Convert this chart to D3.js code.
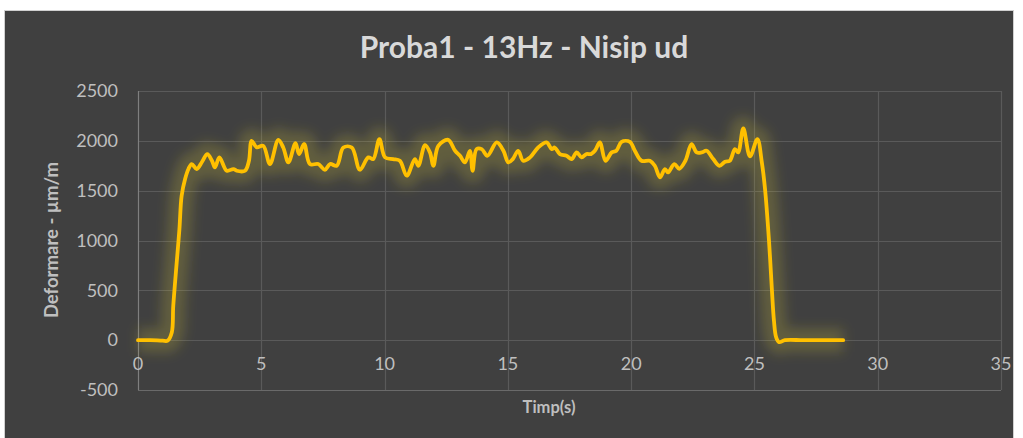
<!DOCTYPE html>
<html>
<head>
<meta charset="utf-8">
<script src="https://cdn.jsdelivr.net/npm/d3@7"></script>
<style>
  body { margin: 0; background: #ffffff; }
  svg { display: block; }
</style>
</head>
<body>
<div id="chart"></div>
<script>
// time in seconds
const timeS = [0, 0.5, 1.0, 1.2, 1.37, 1.43, 1.57, 1.68, 1.77, 1.91, 2.05, 2.18, 2.38, 2.6, 2.81, 3.0, 3.12, 3.3, 3.6, 3.87, 4.0, 4.34, 4.5, 4.61, 4.81, 5.08,
  5.35, 5.69, 5.89, 6.10, 6.39, 6.53, 6.74, 6.97, 7.31, 7.58, 7.79, 8.06, 8.33, 8.67, 9.0, 9.34, 9.54, 9.79, 10.02, 10.35, 10.62, 10.90,
  11.23, 11.37, 11.64, 11.84, 11.98, 12.18, 12.58, 12.86, 13.06, 13.26, 13.46, 13.57, 13.73, 13.94, 14.17, 14.55, 14.82, 15.02, 15.2,
  15.42, 15.62, 15.90, 16.23, 16.57, 16.78, 16.9, 17.11, 17.38, 17.59, 17.79, 17.99, 18.19, 18.37, 18.53, 18.73, 18.96, 19.21, 19.4,
  19.61, 19.95, 20.15, 20.42, 20.76, 20.96, 21.17, 21.37, 21.5, 21.75, 21.95, 22.2, 22.45, 22.66, 22.86, 23.06, 23.33, 23.58, 23.81,
  24.0, 24.21, 24.34, 24.55, 24.82, 25.12, 25.30, 25.43, 25.59, 25.71, 25.79, 25.88, 26.0, 26.24, 27.0, 28.6];
// strain in µm/m
const strain = [0, 0, -5, -5, 77, 344, 780, 1114, 1449, 1617, 1720, 1767, 1717, 1790, 1867, 1800, 1733, 1833, 1700, 1717, 1700, 1700, 1800, 2000, 1935, 1950,
  1767, 2010, 1933, 1784, 1978, 1867, 1968, 1767, 1767, 1710, 1767, 1750, 1933, 1933, 1710, 1834, 1817, 2017, 1834, 1817, 1800, 1650,
  1817, 1750, 1957, 1884, 1750, 1950, 2010, 1900, 1850, 1784, 1900, 1700, 1917, 1917, 1850, 1984, 1900, 1784, 1817,
  1900, 1800, 1834, 1933, 1984, 1917, 1933, 1867, 1850, 1817, 1884, 1834, 1867, 1867, 1900, 1984, 1800, 1884, 1900,
  1990, 1990, 1900, 1800, 1800, 1750, 1634, 1717, 1683, 1767, 1720, 1800, 1967, 1884, 1884, 1900, 1817, 1750, 1790,
  1800, 1917, 1884, 2124, 1844, 2017, 1784, 1516, 1000, 500, 200, 30, -20, 0, 0, 0];

const xTicks = [0, 5, 10, 15, 20, 25, 30, 35];
const yTicks = [-500, 0, 500, 1000, 1500, 2000, 2500];

const chartTitle = 'Proba1 - 13Hz - Nisip ud';
const xTitle = 'Timp(s)';
const yTitle = 'Deformare - µm/m';

const W = 1023, H = 438;
const font = 'Lato, "Open Sans", sans-serif';

const svg = d3.select('#chart').append('svg')
    .attr('width', W)
    .attr('height', H);

// glow filter
const defs = svg.append('defs');
defs.append('filter')
    .attr('id', 'glow')
    .attr('x', '-10%').attr('y', '-20%')
    .attr('width', '120%').attr('height', '140%')
    .append('feGaussianBlur')
    .attr('stdDeviation', 6);

// background panel
svg.append('rect')
    .attr('x', 4.5).attr('y', 10.5)
    .attr('width', 1009).attr('height', H)
    .attr('fill', '#404040')
    .attr('stroke', '#d0d0d0');

const x = d3.scaleLinear().domain([0, 35]).range([138, 1001]);
const y = d3.scaleLinear().domain([-500, 2500]).range([390, 91]);

// gridlines
const g = svg.append('g');
g.selectAll('line.hg')
    .data(yTicks)
    .enter()
    .append('line')
    .attr('x1', x(0)).attr('x2', x(35))
    .attr('y1', d => Math.round(y(d)) + 0.5)
    .attr('y2', d => Math.round(y(d)) + 0.5)
    .attr('stroke', d => d === -500 ? '#6a6a6a' : '#5a5a5a')
    .attr('stroke-width', 1.2);

g.selectAll('line.vg')
    .data(xTicks)
    .enter()
    .append('line')
    .attr('y1', y(2500)).attr('y2', y(-500))
    .attr('x1', d => Math.round(x(d)) + 0.5)
    .attr('x2', d => Math.round(x(d)) + 0.5)
    .attr('stroke', d => d === 0 ? '#7f7f7f' : '#5a5a5a')
    .attr('stroke-width', 1.2);

// tick labels
g.selectAll('text.yt')
    .data(yTicks)
    .enter()
    .append('text')
    .attr('x', 118)
    .attr('y', d => y(d))
    .attr('dy', '0.35em')
    .attr('text-anchor', 'end')
    .attr('fill', '#bfbfbf')
    .attr('font-family', font)
    .attr('font-size', 18)
    .text(d => d);

g.selectAll('text.xt')
    .data(xTicks)
    .enter()
    .append('text')
    .attr('x', d => x(d))
    .attr('y', y(0) + 24)
    .attr('dy', '0.35em')
    .attr('text-anchor', 'middle')
    .attr('fill', '#bfbfbf')
    .attr('font-family', font)
    .attr('font-size', 18)
    .text(d => d);

// titles
svg.append('text')
    .attr('x', 524).attr('y', 47)
    .attr('dy', '0.35em')
    .attr('text-anchor', 'middle')
    .attr('fill', '#d9d9d9')
    .attr('font-family', font)
    .attr('font-weight', 'bold')
    .attr('font-size', 30)
    .text(chartTitle);

svg.append('text')
    .attr('x', 549).attr('y', 407)
    .attr('dy', '0.35em')
    .attr('text-anchor', 'middle')
    .attr('fill', '#bfbfbf')
    .attr('font-family', font)
    .attr('font-weight', 'bold')
    .attr('font-size', 16.5)
    .text(xTitle);

svg.append('text')
    .attr('transform', 'translate(52,240) rotate(-90)')
    .attr('dy', '0.35em')
    .attr('text-anchor', 'middle')
    .attr('fill', '#bfbfbf')
    .attr('font-family', font)
    .attr('font-weight', 'bold')
    .attr('font-size', 18.5)
    .text(yTitle);

// line
const points = timeS.map((t, i) => [t, strain[i]]);
const line = d3.line()
    .x(d => x(d[0]))
    .y(d => y(d[1]))
    .curve(d3.curveCatmullRom.alpha(0.5));

svg.append('path')
    .datum(points)
    .attr('d', line)
    .attr('fill', 'none')
    .attr('stroke', '#d8c830')
    .attr('stroke-opacity', 0.22)
    .attr('stroke-width', 24)
    .attr('stroke-linejoin', 'round')
    .attr('filter', 'url(#glow)');

svg.append('path')
    .datum(points)
    .attr('d', line)
    .attr('fill', 'none')
    .attr('stroke', '#ffc000')
    .attr('stroke-width', 3.8)
    .attr('stroke-linejoin', 'round')
    .attr('stroke-linecap', 'round');
</script>
</body>
</html>
